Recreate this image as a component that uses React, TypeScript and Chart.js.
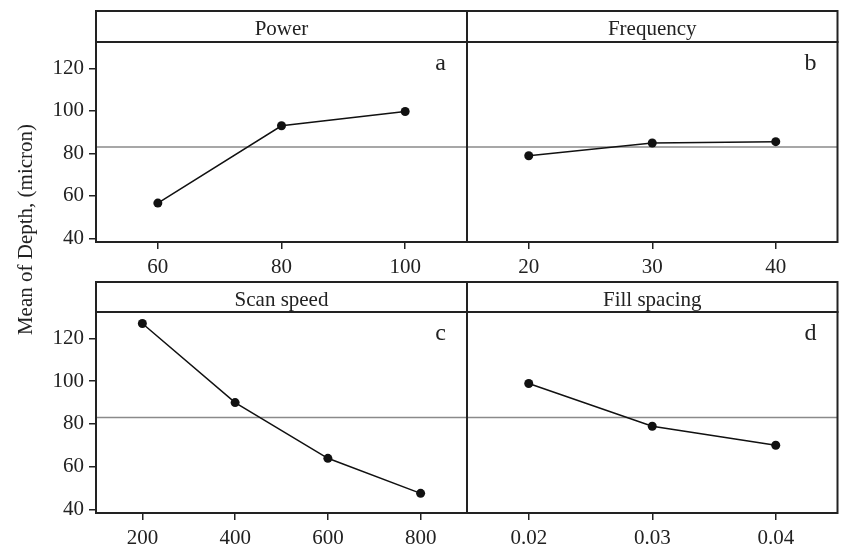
import React, { useEffect, useRef } from 'react';
import { Chart, registerables } from 'chart.js';

Chart.register(...registerables);

const W = 842;
const H = 548;
const FONT = "'Liberation Serif', 'DejaVu Serif', serif";

// ---- data ----
const powerLevels = ['60', '80', '100'];
const powerMeans = [56.6, 93.0, 99.7];
const freqLevels = ['20', '30', '40'];
const freqMeans = [78.9, 84.9, 85.5];
const speedLevels = ['200', '400', '600', '800'];
const speedMeans = [127.0, 90.0, 63.9, 47.5];
const spacingLevels = ['0.02', '0.03', '0.04'];
const spacingMeans = [98.9, 78.9, 70.0];
const yTicks = [40, 60, 80, 100, 120];
const grandMean = 83.0;
const panelTitles = ['Power', 'Frequency', 'Scan speed', 'Fill spacing'];
const panelLetters = ['a', 'b', 'c', 'd'];
const yTitle = 'Mean of Depth, (micron)';

const Y_MIN = 38.3;
const Y_MAX = 132.4;
const Y_W = 60;
const X_H = 40;

type Area = { l: number; t: number; r: number; b: number };
type Panel = {
  title: string;
  letter: string;
  labels: string[];
  values: number[];
  area: Area;
  headerTop: number;
  showY: boolean;
  showYTitle: boolean;
};

const panels: Panel[] = [
  { title: panelTitles[0], letter: panelLetters[0], labels: powerLevels, values: powerMeans,
    area: { l: 96, t: 42, r: 467, b: 242 }, headerTop: 11, showY: true, showYTitle: true },
  { title: panelTitles[1], letter: panelLetters[1], labels: freqLevels, values: freqMeans,
    area: { l: 467, t: 42, r: 839, b: 242 }, headerTop: 11, showY: false, showYTitle: false },
  { title: panelTitles[2], letter: panelLetters[2], labels: speedLevels, values: speedMeans,
    area: { l: 96, t: 312, r: 467, b: 513 }, headerTop: 282, showY: true, showYTitle: false },
  { title: panelTitles[3], letter: panelLetters[3], labels: spacingLevels, values: spacingMeans,
    area: { l: 467, t: 312, r: 839, b: 513 }, headerTop: 282, showY: false, showYTitle: false },
];

function framePlugin(p: Panel) {
  return {
    id: 'frame_' + p.letter,
    beforeDatasetsDraw(chart: any) {
      const ctx = chart.ctx;
      const ca = chart.chartArea;
      const y = chart.scales.y.getPixelForValue(grandMean);
      ctx.save();
      ctx.strokeStyle = '#8a8a8a';
      ctx.lineWidth = 1.5;
      ctx.beginPath();
      ctx.moveTo(ca.left, y);
      ctx.lineTo(ca.right, y);
      ctx.stroke();
      ctx.restore();
    },
    afterDraw(chart: any) {
      const ctx = chart.ctx;
      const ca = chart.chartArea;
      ctx.save();
      // header box
      ctx.strokeStyle = '#222';
      ctx.lineWidth = 2;
      ctx.strokeRect(ca.left, p.headerTop, ca.right - ca.left, ca.top - p.headerTop);
      // plot frame
      ctx.strokeRect(ca.left, ca.top, ca.right - ca.left, ca.bottom - ca.top);
      // title
      ctx.fillStyle = '#222';
      ctx.font = `21px ${FONT}`;
      ctx.textAlign = 'center';
      ctx.textBaseline = 'alphabetic';
      ctx.fillText(p.title, (ca.left + ca.right) / 2, p.headerTop + 23.5);
      // letter
      ctx.font = `24px ${FONT}`;
      ctx.textAlign = 'right';
      ctx.fillText(p.letter, ca.right - 21, ca.top + 28);
      if (p.showYTitle) {
        ctx.font = `21px ${FONT}`;
        ctx.translate(31.5, 229.5);
        ctx.rotate(-Math.PI / 2);
        ctx.textAlign = 'center';
        ctx.fillText(yTitle, 0, 0);
      }
      ctx.restore();
    },
  };
}

function makeChart(canvas: HTMLCanvasElement, p: Panel) {
  return new Chart(canvas, {
    type: 'line',
    data: {
      labels: p.labels,
      datasets: [
        {
          data: p.values,
          borderColor: '#111',
          borderWidth: 1.5,
          pointRadius: 4.5,
          pointBackgroundColor: '#111',
          pointBorderColor: '#111',
          pointBorderWidth: 0,
          tension: 0,
          fill: false,
        },
      ],
    },
    options: {
      responsive: false,
      animation: false,
      layout: {
        padding: {
          left: p.area.l - (p.showY ? Y_W : 0),
          right: W - p.area.r,
          top: p.area.t,
          bottom: H - p.area.b - X_H,
        },
      },
      plugins: { legend: { display: false }, tooltip: { enabled: false } },
      scales: {
        x: {
          type: 'category',
          offset: true,
          grid: {
            display: true,
            drawOnChartArea: false,
            drawTicks: true,
            tickLength: 7,
            color: '#222',
            lineWidth: 1.5,
            offset: false,
          },
          border: { display: false },
          ticks: {
            padding: 6,
            color: '#222',
            font: { family: FONT, size: 21 },
            maxRotation: 0,
            autoSkip: false,
          },
          afterFit: (s: any) => {
            s.height = X_H;
          },
        },
        y: {
          type: 'linear',
          display: p.showY,
          min: Y_MIN,
          max: Y_MAX,
          afterBuildTicks: (s: any) => {
            s.ticks = yTicks.map((v) => ({ value: v }));
          },
          grid: {
            display: true,
            drawOnChartArea: false,
            drawTicks: true,
            tickLength: 7,
            color: '#222',
            lineWidth: 1.5,
          },
          border: { display: false },
          ticks: {
            padding: 5,
            color: '#222',
            font: { family: FONT, size: 21 },
          },
          afterFit: (s: any) => {
            s.width = p.showY ? Y_W : 0;
          },
        },
      },
    } as any,
    plugins: [framePlugin(p)],
  });
}

export default function App() {
  const refs = [
    useRef<HTMLCanvasElement>(null),
    useRef<HTMLCanvasElement>(null),
    useRef<HTMLCanvasElement>(null),
    useRef<HTMLCanvasElement>(null),
  ];
  useEffect(() => {
    const charts = panels.map((p, i) => makeChart(refs[i].current as HTMLCanvasElement, p));
    return () => charts.forEach((c) => c.destroy());
  }, []);
  return (
    <div style={{ position: 'absolute', left: 0, top: 0, width: W, height: H, background: '#fff' }}>
      {panels.map((p, i) => (
        <canvas
          key={p.letter}
          ref={refs[i]}
          width={W}
          height={H}
          style={{ position: 'absolute', left: 0, top: 0, width: W, height: H }}
        />
      ))}
    </div>
  );
}
